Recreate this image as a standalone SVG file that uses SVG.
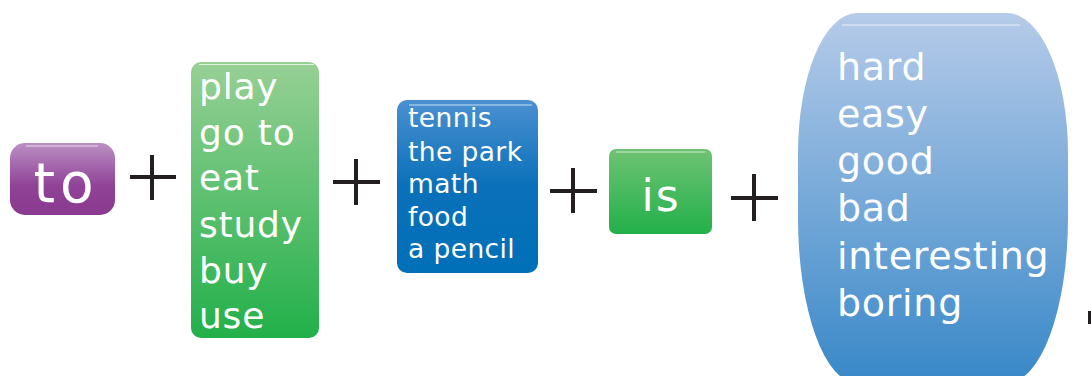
<svg xmlns="http://www.w3.org/2000/svg" width="1091" height="376" viewBox="0 0 1091 376">
  <defs>
    <linearGradient id="gPurple" x1="0" y1="0" x2="0" y2="1">
      <stop offset="0" stop-color="#bb8fc4"/>
      <stop offset="0.6" stop-color="#8f4296"/>
      <stop offset="1" stop-color="#8a3a90"/>
    </linearGradient>
    <linearGradient id="gGreen" x1="0" y1="0" x2="0" y2="1">
      <stop offset="0" stop-color="#97d095"/>
      <stop offset="1" stop-color="#22b04a"/>
    </linearGradient>
    <linearGradient id="gGreenSmall" x1="0" y1="0" x2="0" y2="1">
      <stop offset="0" stop-color="#6ec373"/>
      <stop offset="1" stop-color="#22b04a"/>
    </linearGradient>
    <linearGradient id="gBlue" x1="0" y1="0" x2="0" y2="1">
      <stop offset="0" stop-color="#4a90d0"/>
      <stop offset="0.5" stop-color="#0a70b9"/>
      <stop offset="1" stop-color="#0070b8"/>
    </linearGradient>
    <linearGradient id="gSky" x1="0" y1="0" x2="0" y2="1">
      <stop offset="0" stop-color="#b6cbe9"/>
      <stop offset="1" stop-color="#3888c8"/>
    </linearGradient>
  </defs>
  <style>
    .txt { font-family: "DejaVu Sans", Verdana, sans-serif; fill: #ffffff; }
    .hl { stroke: #ffffff; stroke-opacity: 0.7; stroke-width: 1.2; fill: none; }
    .plus { stroke: #231f20; stroke-width: 4; fill: none; }
  </style>
  <rect width="1091" height="376" fill="#ffffff"/>

  <g id="node-to">
    <rect x="10" y="143" width="105" height="72" rx="15" fill="url(#gPurple)"/>
    <line class="hl" x1="26" y1="146" x2="98" y2="146"/>
    <text class="txt" x="66" y="202" font-size="55" letter-spacing="5" text-anchor="middle">to</text>
  </g>

  <g id="node-verbs">
    <rect x="191" y="62" width="128" height="276" rx="10" fill="url(#gGreen)"/>
    <line class="hl" x1="199" y1="64.5" x2="314" y2="64.5"/>
    <g class="txt" font-size="36" letter-spacing="0.8">
      <text x="199" y="99">play</text>
      <text x="199" y="145">go to</text>
      <text x="199" y="190">eat</text>
      <text x="199" y="237">study</text>
      <text x="199" y="283">buy</text>
      <text x="199" y="328">use</text>
    </g>
  </g>

  <g id="node-objects">
    <rect x="397" y="100" width="141" height="173" rx="10" fill="url(#gBlue)"/>
    <line class="hl" x1="409" y1="105" x2="532" y2="105"/>
    <g class="txt" font-size="26.5" letter-spacing="0.4">
      <text x="408" y="127">tennis</text>
      <text x="408" y="161">the park</text>
      <text x="408" y="193">math</text>
      <text x="408" y="226">food</text>
      <text x="408" y="258">a pencil</text>
    </g>
  </g>

  <g id="node-is">
    <rect x="609" y="149" width="103" height="85" rx="7" fill="url(#gGreenSmall)"/>
    <line class="hl" x1="616" y1="152" x2="705" y2="152"/>
    <text class="txt" x="661" y="211" font-size="44" letter-spacing="2" text-anchor="middle">is</text>
  </g>

  <g id="node-adjectives">
    <path d="M 857 13 L 1007 13 A 61 140 0 0 1 1068 153 L 1068 218 A 61 165 0 0 1 1007 383 L 857 383 A 59 165 0 0 1 798 218 L 798 153 A 59 140 0 0 1 857 13 Z" fill="url(#gSky)"/>
    <line class="hl" x1="842" y1="25" x2="1020" y2="25"/>
    <g class="txt" font-size="38" letter-spacing="0.7">
      <text x="837" y="80">hard</text>
      <text x="837" y="127">easy</text>
      <text x="837" y="174">good</text>
      <text x="837" y="221">bad</text>
      <text x="837" y="269">interesting</text>
      <text x="837" y="316">boring</text>
    </g>
  </g>

  <g id="operators">
    <path class="plus" d="M130 177 H176 M152 155 V200"/>
    <path class="plus" d="M333 182 H380 M356 159 V205"/>
    <path class="plus" d="M550 191 H597 M573 168 V213"/>
    <path class="plus" d="M731 198 H778 M754 174 V221"/>
    <rect x="1088" y="311" width="3" height="13" fill="#231f20"/>
  </g>
</svg>
